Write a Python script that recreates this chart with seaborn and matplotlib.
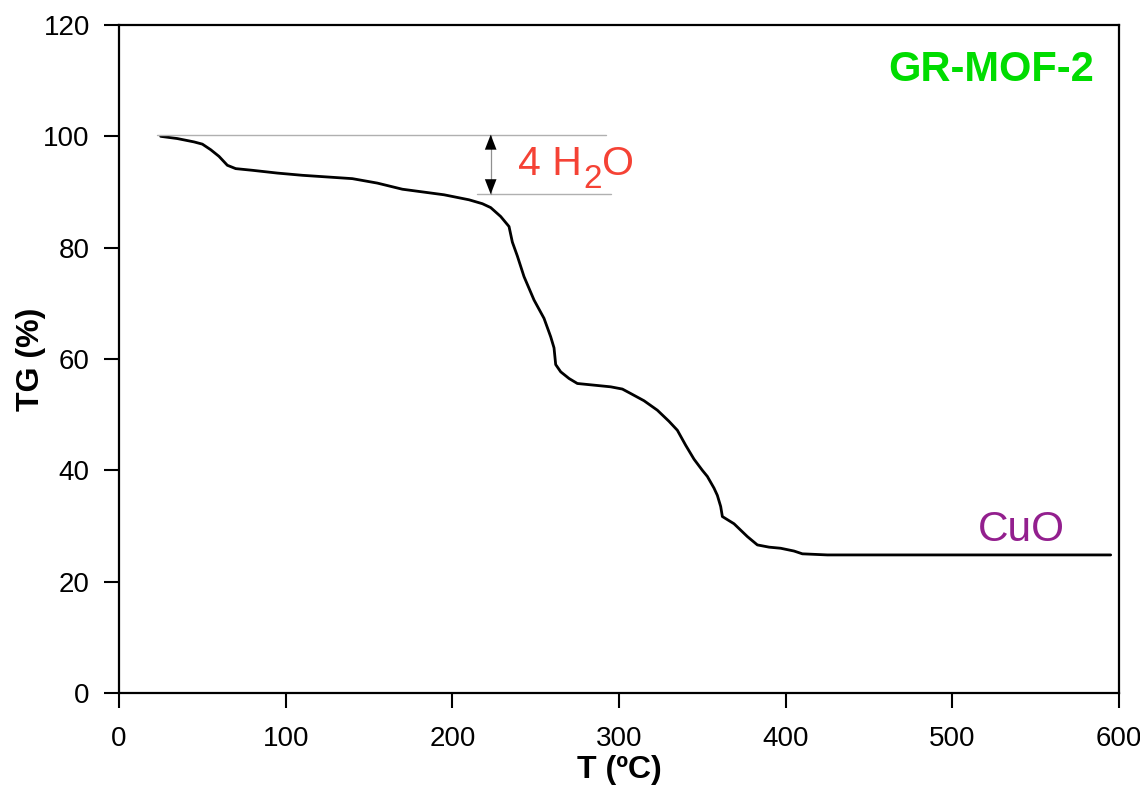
import matplotlib
matplotlib.use("Agg")
import matplotlib.pyplot as plt
import matplotlib.transforms as mtransforms
import seaborn as sns
import pandas as pd

# ---- data ----
temperature = [25, 35, 45, 50, 55, 60, 65, 70, 80, 95, 110, 125, 140, 155, 170,
               180, 195, 210, 218, 223, 229, 234, 236, 239, 243, 249, 255, 259,
               261, 262, 265, 270, 275, 285, 295, 302, 307, 315, 323, 330, 335,
               340, 345, 350, 353, 357, 359, 361, 362, 369, 377, 383, 390, 397,
               405, 410, 425, 595]
tg = [100.0, 99.6, 99.0, 98.6, 97.6, 96.4, 94.8, 94.2, 93.9, 93.4, 93.0, 92.7,
      92.4, 91.6, 90.5, 90.1, 89.5, 88.6, 87.9, 87.2, 85.6, 83.8, 81.0, 78.5,
      74.8, 70.6, 67.3, 64.0, 62.0, 59.0, 57.7, 56.5, 55.6, 55.3, 55.0, 54.6,
      53.8, 52.5, 50.8, 48.8, 47.2, 44.5, 42.0, 40.0, 38.9, 36.8, 35.5, 33.5,
      31.7, 30.4, 28.1, 26.6, 26.2, 26.0, 25.5, 25.0, 24.8, 24.8]

x_ticks = [0, 100, 200, 300, 400, 500, 600]
y_ticks = [0, 20, 40, 60, 80, 100, 120]
water_levels = [100.3, 89.6]

df = pd.DataFrame({"T": temperature, "TG": tg})

sns.set_theme(style="ticks")
plt.rcParams['font.family'] = ['Liberation Sans', 'DejaVu Sans']

fig = plt.figure(figsize=(11.4, 7.89), dpi=100)
ax = fig.add_axes([0.1044, 0.1217, 0.8772, 0.8466])

sns.lineplot(data=df, x="T", y="TG", ax=ax, color="black", linewidth=2.0,
             sort=False, estimator=None)

ax.set_xlim(0, 600)
ax.set_ylim(0, 120)
ax.set_xticks(x_ticks)
ax.set_yticks(y_ticks)
ax.tick_params(axis="both", direction="out", length=11, width=1.5,
               labelsize=20, colors="black")
ax.tick_params(axis="x", pad=13)
ax.tick_params(axis="y", pad=10)
for sp in ax.spines.values():
    sp.set_linewidth(1.6)
    sp.set_color("black")

ax.set_xlabel("T (ºC)", fontsize=23, fontweight="bold", labelpad=2,
              color="black")
ax.set_ylabel("TG (%)", fontsize=23, fontweight="bold", labelpad=-2,
              color="black")

# water loss guide lines
ax.plot([23, 292], [water_levels[0]] * 2, color="#b0b0b0", lw=1.0)
ax.plot([215, 295], [water_levels[1]] * 2, color="#b0b0b0", lw=1.0)
ax.plot([223, 223], water_levels, color="#909090", lw=0.9)
ax.annotate("", xy=(223, water_levels[0]), xytext=(223, 97.0),
            arrowprops=dict(arrowstyle="-|>,head_length=0.9,head_width=0.35",
                            color="black", lw=0.0, shrinkA=0, shrinkB=0))
ax.annotate("", xy=(223, water_levels[1]), xytext=(223, 92.9),
            arrowprops=dict(arrowstyle="-|>,head_length=0.9,head_width=0.35",
                            color="black", lw=0.0, shrinkA=0, shrinkB=0))

# "4 H2O" composed from pieces so the subscript sits like the reference
red = "#f54235"
t1 = ax.text(239.5, 95.0, "4 H", color=red, fontsize=29.5,
             va="center", ha="left")
fig.canvas.draw()
r = fig.canvas.get_renderer()
w1 = t1.get_window_extent(r).width
tr2 = mtransforms.offset_copy(t1.get_transform(), fig=fig,
                              x=w1 * 72 / fig.dpi + 1, y=-11, units="points")
t2 = ax.text(239.5, 95.0, "2", color=red, fontsize=24, va="center",
             ha="left", transform=tr2)
fig.canvas.draw()
w2 = t2.get_window_extent(r).width
tr3 = mtransforms.offset_copy(t1.get_transform(), fig=fig,
                              x=(w1 + w2) * 72 / fig.dpi + 1, y=0,
                              units="points")
ax.text(239.5, 95.0, "O", color=red, fontsize=29.5, va="center", ha="left",
        transform=tr3)

ax.text(523.5, 111.9, "GR-MOF-2", color="#00dc00", fontsize=30,
        fontweight="bold", va="center", ha="center")
ax.text(541.5, 29.2, "CuO", color="#931f8e", fontsize=30.5,
        va="center", ha="center")

fig.savefig("out.png", dpi=100, facecolor="white")
